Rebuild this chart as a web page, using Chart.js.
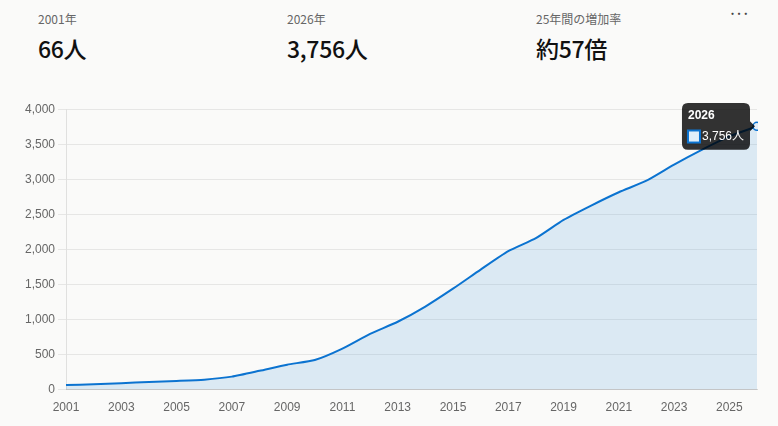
<!DOCTYPE html>
<html lang="ja">
<head>
<meta charset="utf-8">
<script src="https://cdn.jsdelivr.net/npm/chart.js@4"></script>
<style>
    html, body {
        margin: 0;
        padding: 0;
        background: #fafaf9;
        width: 778px;
        height: 426px;
        overflow: hidden;
        font-family: "Noto Sans CJK JP", "Noto Sans", sans-serif;
    }
    .stat {
        position: absolute;
        top: 9px;
    }
    .stat .label {
        font-size: 12px;
        color: #666;
        line-height: 20px;
    }
    .stat .value {
        font-size: 23px;
        font-weight: 500;
        color: #111;
        line-height: 30px;
        margin-top: 4px;
        letter-spacing: -0.3px;
    }
    .menu {
        position: absolute;
        left: 729px;
        top: 4px;
        font-size: 12px;
        font-weight: bold;
        color: #444;
        letter-spacing: -0.5px;
    }
    #chartBox {
        position: absolute;
        left: 0;
        top: 99px;
        width: 778px;
        height: 327px;
    }
</style>
</head>
<body>
<div class="stat" style="left:38px"><div class="label">2001年</div><div class="value">66人</div></div>
<div class="stat" style="left:287px"><div class="label">2026年</div><div class="value">3,756人</div></div>
<div class="stat" style="left:536px"><div class="label">25年間の増加率</div><div class="value">約57倍</div></div>
<div class="menu">···</div>
<div id="chartBox"><canvas id="growthChart"></canvas></div>

<script>
// 年ごとの人数
const years = ['2001', '2002', '2003', '2004', '2005', '2006', '2007', '2008', '2009', '2010',
    '2011', '2012', '2013', '2014', '2015', '2016', '2017', '2018', '2019', '2020',
    '2021', '2022', '2023', '2024', '2025', '2026'];
const people = [66, 76, 90, 110, 124, 142, 185, 268, 356, 422,
    585, 795, 968, 1185, 1440, 1712, 1975, 2160, 2420, 2625,
    2815, 2980, 3210, 3420, 3612, 3756];
const yTicks = [0, 500, 1000, 1500, 2000, 2500, 3000, 3500, 4000];

const lineColor = '#0b73d0';
const fillColor = 'rgba(0, 114, 206, 0.12)';

Chart.defaults.font.family = "'Liberation Sans', Arial, 'Noto Sans CJK JP', sans-serif";

const ctx = document.getElementById('growthChart');
const chart = new Chart(ctx, {
    type: 'line',
    data: {
        labels: years,
        datasets: [{
            label: '人数',
            data: people,
            borderColor: lineColor,
            backgroundColor: fillColor,
            borderWidth: 2,
            fill: 'origin',
            tension: 0.2,
            pointRadius: 0,
            pointHoverRadius: 4,
            pointHoverBackgroundColor: '#e3eef9',
            pointHoverBorderColor: lineColor,
            pointHoverBorderWidth: 1.5
        }]
    },
    options: {
        responsive: true,
        maintainAspectRatio: false,
        animation: false,
        layout: {
            padding: { left: 22, right: 21, top: 6, bottom: 8 }
        },
        interaction: {
            mode: 'index',
            intersect: false
        },
        plugins: {
            legend: { display: false },
            tooltip: {
                backgroundColor: 'rgba(0, 0, 0, 0.8)',
                titleFont: { size: 12, weight: 'bold' },
                bodyFont: { size: 12 },
                cornerRadius: 6,
                callbacks: {
                    title: (items) => items[0].label,
                    label: (item) => item.parsed.y.toLocaleString('en-US') + '人'
                }
            }
        },
        scales: {
            x: {
                grid: { display: false },
                border: { color: 'rgba(0, 0, 0, 0.14)' },
                ticks: {
                    color: '#666',
                    font: { size: 12 },
                    autoSkip: false,
                    maxRotation: 0,
                    callback: function (value, index) {
                        return index % 2 === 0 ? this.getLabelForValue(value) : '';
                    }
                }
            },
            y: {
                min: yTicks[0],
                max: yTicks[yTicks.length - 1],
                afterBuildTicks: (axis) => {
                    axis.ticks = yTicks.map(v => ({ value: v }));
                },
                grid: { color: 'rgba(0, 0, 0, 0.08)' },
                border: { color: 'rgba(0, 0, 0, 0.1)' },
                ticks: {
                    color: '#666',
                    font: { size: 12 },
                    callback: (v) => v.toLocaleString('en-US')
                }
            }
        }
    }
});

// 最後の年のツールチップを表示
const last = years.length - 1;
const meta = chart.getDatasetMeta(0);
const pt = meta.data[last];
chart.setActiveElements([{ datasetIndex: 0, index: last }]);
chart.tooltip.setActiveElements([{ datasetIndex: 0, index: last }], { x: pt.x, y: pt.y });
chart.update('none');
</script>
</body>
</html>
